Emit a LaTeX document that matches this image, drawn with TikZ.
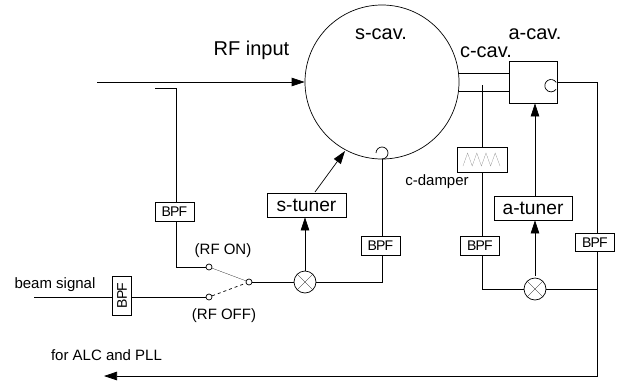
\documentclass[tikz,border=0pt]{standalone}
\usepackage{fontspec}
\setmainfont{Liberation Sans}
\usetikzlibrary{arrows.meta}
\tikzset{
  big/.style={font=\fontsize{20}{24}\selectfont, inner sep=0pt},
  small/.style={font=\fontsize{15}{18}\selectfont, inner sep=0pt},
  filterbox/.style={draw, fill=white, minimum width=39pt, minimum height=18.5pt, inner sep=0pt, font=\fontsize{14}{16}\selectfont\addfontfeatures{LetterSpace=-6}},
  tunerbox/.style={draw, fill=white, minimum height=24pt, inner sep=0pt, font=\fontsize{19.2}{24}\selectfont},
  mixer/.style={draw, fill=white, circle, minimum size=22pt, inner sep=0pt},
  contact/.style={draw, fill=white, circle, minimum size=6pt, inner sep=0pt},
  tip/.style={-{Triangle[length=13pt,width=8.5pt]}}
}
\begin{document}
\begin{tikzpicture}[x=1pt, y=-1pt, line width=0.7pt]
\useasboundingbox (0,0) rectangle (619,381);

\node[draw, circle, minimum size=154pt, inner sep=0pt] (scav) at (382,82) {};
\node[draw, minimum width=48pt, minimum height=42pt, inner sep=0pt] (acav) at (533,82) {};
\node[draw, minimum width=50pt, minimum height=25pt, inner sep=0pt] (cdamp) at (482,159.5) {};

\node[tunerbox, minimum width=79pt] (stuner) at (306.5,205) {s-tuner\hspace{12pt}};
\node[tunerbox, minimum width=78pt] (atuner) at (533,208) {a-tuner};

\node[filterbox] (bpfin) at (174.5,212) {BPF};
\node[filterbox] (bpfs) at (380.5,246) {BPF};
\node[filterbox] (bpfc) at (480,246) {BPF};
\node[filterbox] (bpfa) at (595,242.5) {BPF};
\node[filterbox, rotate=90] (bpfb) at (122,295.5) {BPF};

\node[mixer] (mixs) at (305,282) {};
\node[mixer] (mixa) at (535,289) {};
\draw[very thin] (mixs.north west)--(mixs.south east);
\draw[very thin] (mixs.north east)--(mixs.south west);
\draw[very thin] (mixa.north west)--(mixa.south east);
\draw[very thin] (mixa.north east)--(mixa.south west);

\node[contact] (swon) at (209,267) {};
\node[contact] (swoff) at (209,297) {};
\node[contact] (swcom) at (249,282) {};

\coordinate (rfin) at (97,82);
\coordinate (rftap) at (155,88);
\coordinate (rfdown) at (176,88);
\coordinate (beamin) at (34,297);
\coordinate (sloop) at (382,159);
\coordinate (aloop) at (557,82);
\coordinate (ctop) at (459,73);
\coordinate (cbot) at (459,91);
\coordinate (ctap) at (482,85);
\coordinate (rside) at (597,82);
\coordinate (alcout) at (104,376);
\coordinate (sstart) at (315,192);
\coordinate (send) at (345,151);

\draw[tip] (rfin)--(scav.west);
\draw (rftap)--(rfdown)--(bpfin.north-|rfdown);
\draw (bpfin.south-|rfdown)|-(swon.west);
\draw (beamin)--(beamin-|bpfb.north);
\draw (beamin-|bpfb.south)--(swoff.west);
\draw[very thin] (swon)--(swcom);
\draw[dashed] (swoff)--(swcom);
\draw (swcom.east)--(mixs.west);
\draw[tip] (mixs.north)--(stuner.south-|mixs.north);
\draw[tip] (sstart)--(send);
\draw (mixs.east)-|(bpfs.south-|sloop);
\draw (bpfs.north-|sloop)--(sloop);
\draw (sloop) arc (90:-180:6);

\draw (ctop)--(ctop-|acav.west);
\draw (cbot)--(cbot-|acav.west);
\draw (ctap)--(cdamp.north-|ctap);
\draw (cdamp.south)--(bpfc.north-|ctap);
\draw (bpfc.south-|ctap)|-(mixa.west);
\draw[gray, very thin] (463,166)--(467.6,153)--(472.2,166)--(476.8,153)--(481.4,166)--(486,153)--(490.6,166)--(495.2,153)--(500,166);

\draw (mixa.east)-|(bpfa.south-|rside);
\draw[tip, shorten <=2pt] (mixa.north)--(atuner.south-|mixa.north);
\draw[tip] (atuner.north-|mixa.north)--(acav.south-|mixa.north);
\draw (551,85.7)+(-32:6.2) arc (-32:-324:6.2);
\draw (aloop)--(rside)--(bpfa.north-|rside);
\draw[tip] (bpfa.south-|rside)|-(alcout);

\node[big] (lrf) at (251.5,50) {RF input};
\node[big] (lscav) at (381,34) {s-cav.};
\node[big] (lccav) at (486,52) {c-cav.};
\node[big] (lacav) at (535,34) {a-cav.};
\node[small] (ldamp) at (437,182) {c-damper};
\node[small] (lbeam) at (55,285) {beam signal};
\node[small] (lon) at (223,251) {(RF ON)};
\node[small] (loff) at (224,316) {(RF OFF)};
\node[small] (lalc) at (106.5,355) {for ALC and PLL};
\end{tikzpicture}
\end{document}
